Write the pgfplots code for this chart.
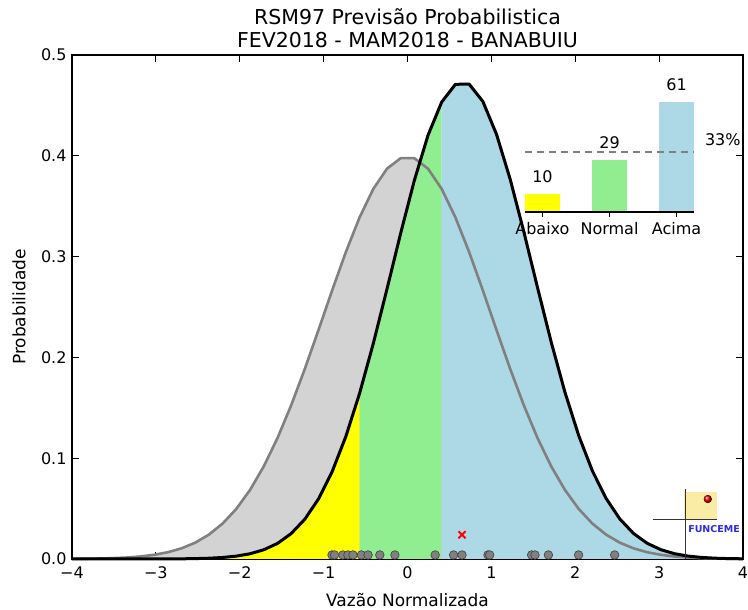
\documentclass[border=0pt]{standalone}
\usepackage{fontspec}
\setmainfont{DejaVu Sans}
\usepackage{pgfplots}
\pgfplotsset{compat=1.18}
\definecolor{cgrayfill}{HTML}{D3D3D3}
\definecolor{cgrayline}{HTML}{808080}
\definecolor{cyellow}{HTML}{FFFF00}
\definecolor{cgreen}{HTML}{90EE90}
\definecolor{cblue}{HTML}{ADD8E6}
\definecolor{clogo}{HTML}{FAEBA5}
\definecolor{cfunceme}{HTML}{2B2BE0}
\newcommand{\tfont}{\fontsize{16}{19}\selectfont}
\begin{document}
\begin{tikzpicture}
\useasboundingbox (-72pt,-51pt) rectangle (676pt,559pt);
\begin{axis}[
  at={(0pt,0pt)}, anchor=south west,
  width=671pt, height=504pt, scale only axis,
  xmin=-4, xmax=4, ymin=0, ymax=0.5,
  xtick={-4,-3,-2,-1,0,1,2,3,4},
  xticklabels={−4,−3,−2,−1,0,1,2,3,4},
  ytick={0,0.1,0.2,0.3,0.4,0.5},
  yticklabels={0.0,0.1,0.2,0.3,0.4,0.5},
  tick align=inside, xtick pos=both, ytick pos=both,
  xticklabel pos=lower, yticklabel pos=left,
  major tick length=7pt,
  tick style={line width=1pt, black},
  axis line style={line width=1.3pt},
  ticklabel style={font=\tfont},
  x tick label style={yshift=-4pt},
  y tick label style={xshift=-2pt},
  xlabel={Vazão Normalizada},
  ylabel={Probabilidade},
  label style={font=\fontsize{17}{20}\selectfont},
  xlabel style={at={([yshift=-41pt]axis description cs:0.5,0)}, anchor=center},
  ylabel style={at={([xshift=-53pt]axis description cs:0,0.5)}, anchor=center},
  title={RSM97 Previsão Probabilistica\\FEV2018 - MAM2018 - BANABUIU},
  title style={at={([yshift=1pt]axis description cs:0.5,1)}, anchor=south,
    align=center, inner sep=0pt, font=\fontsize{20.5}{23.5}\selectfont},
  clip=false,
]
% climatology (standard normal) area
\addplot[fill=cgrayfill, draw=none] coordinates {
(-4.0000,0.00013) (-3.8367,0.00025) (-3.6735,0.00047) (-3.5102,0.00084) (-3.3469,0.00147)
(-3.1837,0.00251) (-3.0204,0.00417) (-2.8571,0.00673) (-2.6939,0.01059) (-2.5306,0.01623)
(-2.3673,0.02421) (-2.2041,0.03516) (-2.0408,0.04973) (-1.8776,0.06846) (-1.7143,0.09179)
(-1.5510,0.11983) (-1.3878,0.15230) (-1.2245,0.18851) (-1.0612,0.22718) (-0.8980,0.26657)
(-0.7347,0.30458) (-0.5714,0.33885) (-0.4082,0.36705) (-0.2449,0.38716) (-0.0816,0.39762)
(0.0816,0.39762) (0.2449,0.38716) (0.4082,0.36705) (0.5714,0.33885) (0.7347,0.30458)
(0.8980,0.26657) (1.0612,0.22718) (1.2245,0.18851) (1.3878,0.15230) (1.5510,0.11983)
(1.7143,0.09179) (1.8776,0.06846) (2.0408,0.04973) (2.2041,0.03516) (2.3673,0.02421)
(2.5306,0.01623) (2.6939,0.01059) (2.8571,0.00673) (3.0204,0.00417) (3.1837,0.00251)
(3.3469,0.00147) (3.5102,0.00084) (3.6735,0.00047) (3.8367,0.00025) (4.0000,0.00013)
} \closedcycle;
% forecast areas
\addplot[fill=cyellow, draw=none] coordinates {
(-4.0000,0.00000) (-3.8367,0.00000) (-3.6735,0.00000) (-3.5102,0.00000) (-3.3469,0.00001)
(-3.1837,0.00001) (-3.0204,0.00004) (-2.8571,0.00008) (-2.6939,0.00018) (-2.5306,0.00038)
(-2.3673,0.00077) (-2.2041,0.00150) (-2.0408,0.00285) (-1.8776,0.00519) (-1.7143,0.00912)
(-1.5510,0.01542) (-1.3878,0.02512) (-1.2245,0.03942) (-1.0612,0.05958) (-0.8980,0.08672)
(-0.7347,0.12162) (-0.5714,0.16426)
} \closedcycle;
\addplot[fill=cgreen, draw=none] coordinates {
(-0.5714,0.16426) (-0.4082,0.21364) (-0.2449,0.26768) (-0.0816,0.32305) (0.0816,0.37551)
(0.2449,0.42044) (0.4082,0.45339)
} \closedcycle;
\addplot[fill=cblue, draw=none] coordinates {
(0.4082,0.45339) (0.5714,0.47092) (0.7347,0.47113) (0.8980,0.45398) (1.0612,0.42137)
(1.2245,0.37668) (1.3878,0.32435) (1.5510,0.26899) (1.7143,0.21488) (1.8776,0.16533)
(2.0408,0.12255) (2.2041,0.08746) (2.3673,0.06014) (2.5306,0.03982) (2.6939,0.02540)
(2.8571,0.01561) (3.0204,0.00923) (3.1837,0.00526) (3.3469,0.00289) (3.5102,0.00153)
(3.6735,0.00078) (3.8367,0.00038) (4.0000,0.00018)
} \closedcycle;
% climatology line
\addplot[cgrayline, line width=2.6pt, line join=round] coordinates {
(-4.0000,0.00013) (-3.8367,0.00025) (-3.6735,0.00047) (-3.5102,0.00084) (-3.3469,0.00147)
(-3.1837,0.00251) (-3.0204,0.00417) (-2.8571,0.00673) (-2.6939,0.01059) (-2.5306,0.01623)
(-2.3673,0.02421) (-2.2041,0.03516) (-2.0408,0.04973) (-1.8776,0.06846) (-1.7143,0.09179)
(-1.5510,0.11983) (-1.3878,0.15230) (-1.2245,0.18851) (-1.0612,0.22718) (-0.8980,0.26657)
(-0.7347,0.30458) (-0.5714,0.33885) (-0.4082,0.36705) (-0.2449,0.38716) (-0.0816,0.39762)
(0.0816,0.39762) (0.2449,0.38716) (0.4082,0.36705) (0.5714,0.33885) (0.7347,0.30458)
(0.8980,0.26657) (1.0612,0.22718) (1.2245,0.18851) (1.3878,0.15230) (1.5510,0.11983)
(1.7143,0.09179) (1.8776,0.06846) (2.0408,0.04973) (2.2041,0.03516) (2.3673,0.02421)
(2.5306,0.01623) (2.6939,0.01059) (2.8571,0.00673) (3.0204,0.00417) (3.1837,0.00251)
(3.3469,0.00147) (3.5102,0.00084) (3.6735,0.00047) (3.8367,0.00025) (4.0000,0.00013)
};
% forecast line
\addplot[black, line width=3pt, line join=round] coordinates {
(-4.0000,0.00000) (-3.8367,0.00000) (-3.6735,0.00000) (-3.5102,0.00000) (-3.3469,0.00001)
(-3.1837,0.00001) (-3.0204,0.00004) (-2.8571,0.00008) (-2.6939,0.00018) (-2.5306,0.00038)
(-2.3673,0.00077) (-2.2041,0.00150) (-2.0408,0.00285) (-1.8776,0.00519) (-1.7143,0.00912)
(-1.5510,0.01542) (-1.3878,0.02512) (-1.2245,0.03942) (-1.0612,0.05958) (-0.8980,0.08672)
(-0.7347,0.12162) (-0.5714,0.16426) (-0.4082,0.21364) (-0.2449,0.26768) (-0.0816,0.32305)
(0.0816,0.37551) (0.2449,0.42044) (0.4082,0.45339) (0.5714,0.47092) (0.7347,0.47113)
(0.8980,0.45398) (1.0612,0.42137) (1.2245,0.37668) (1.3878,0.32435) (1.5510,0.26899)
(1.7143,0.21488) (1.8776,0.16533) (2.0408,0.12255) (2.2041,0.08746) (2.3673,0.06014)
(2.5306,0.03982) (2.6939,0.02540) (2.8571,0.01561) (3.0204,0.00923) (3.1837,0.00526)
(3.3469,0.00289) (3.5102,0.00153) (3.6735,0.00078) (3.8367,0.00038) (4.0000,0.00018)
};
% observed years
\addplot[only marks, mark=*, mark size=4.3pt,
  mark options={fill=cgrayline, draw=black!75, line width=0.6pt}] coordinates {
(-0.90,0.004) (-0.87,0.004) (-0.77,0.004) (-0.71,0.004) (-0.65,0.004) (-0.55,0.004)
(-0.47,0.004) (-0.33,0.004) (-0.15,0.004) (0.33,0.004) (0.55,0.004) (0.65,0.004)
(0.96,0.004) (0.98,0.004) (1.48,0.004) (1.52,0.004) (1.68,0.004) (2.04,0.004) (2.47,0.004)
};
% forecast mean
\addplot[only marks, mark=x, mark size=5pt, red, line width=2pt] coordinates {(0.65,0.024)};
% FUNCEME logo
\fill[clogo] (axis cs:3.296,0.0387) rectangle (axis cs:3.689,0.0665);
\fill[ball color=red!85!black] (axis cs:3.58,0.0595) circle (4pt);
\draw[black!80, line width=1pt] (axis cs:2.926,0.0387) -- (axis cs:3.689,0.0387);
\draw[black!80, line width=1pt] (axis cs:3.32,0.069) -- (axis cs:3.32,0.0);
\node[font=\fontsize{9.5}{10}\selectfont\bfseries, text=cfunceme, inner sep=0pt]
  at (axis cs:3.655,0.0295) {FUNCEME};
\end{axis}
% inset bar chart
\begin{axis}[
  at={(453pt,347pt)}, anchor=south west,
  width=169pt, height=126pt, scale only axis,
  xmin=-0.26, xmax=2.26, ymin=0, ymax=70,
  hide y axis, axis x line*=bottom, axis on top,
  x axis line style={-, line width=1.3pt},
  xtick={0,1,2}, xticklabels={Abaixo,Normal,Acima},
  tick align=inside, major tick length=5pt,
  tick style={line width=1pt, black},
  ticklabel style={font=\tfont},
  x tick label style={yshift=-2pt},
  /pgf/number format/assume math mode=true,
  ybar, bar width=35pt, bar shift=0pt,
  clip=false,
]
\addplot[fill=cyellow, draw=none, nodes near coords, nodes near coords style={font=\tfont, yshift=7.5pt, text=black}] coordinates {(0,10)};
\addplot[fill=cgreen, draw=none, nodes near coords, nodes near coords style={font=\tfont, yshift=7.5pt, text=black}] coordinates {(1,29)};
\addplot[fill=cblue, draw=none, nodes near coords, nodes near coords style={font=\tfont, yshift=7.5pt, text=black}] coordinates {(2,61)};
\addplot[sharp plot, gray, line width=1.2pt, dash pattern=on 7pt off 5pt] coordinates {(-0.26,33.3) (2.26,33.3)};
\node[font=\tfont] at (axis cs:2.69,40) {33\%};
\end{axis}
\end{tikzpicture}
\end{document}
